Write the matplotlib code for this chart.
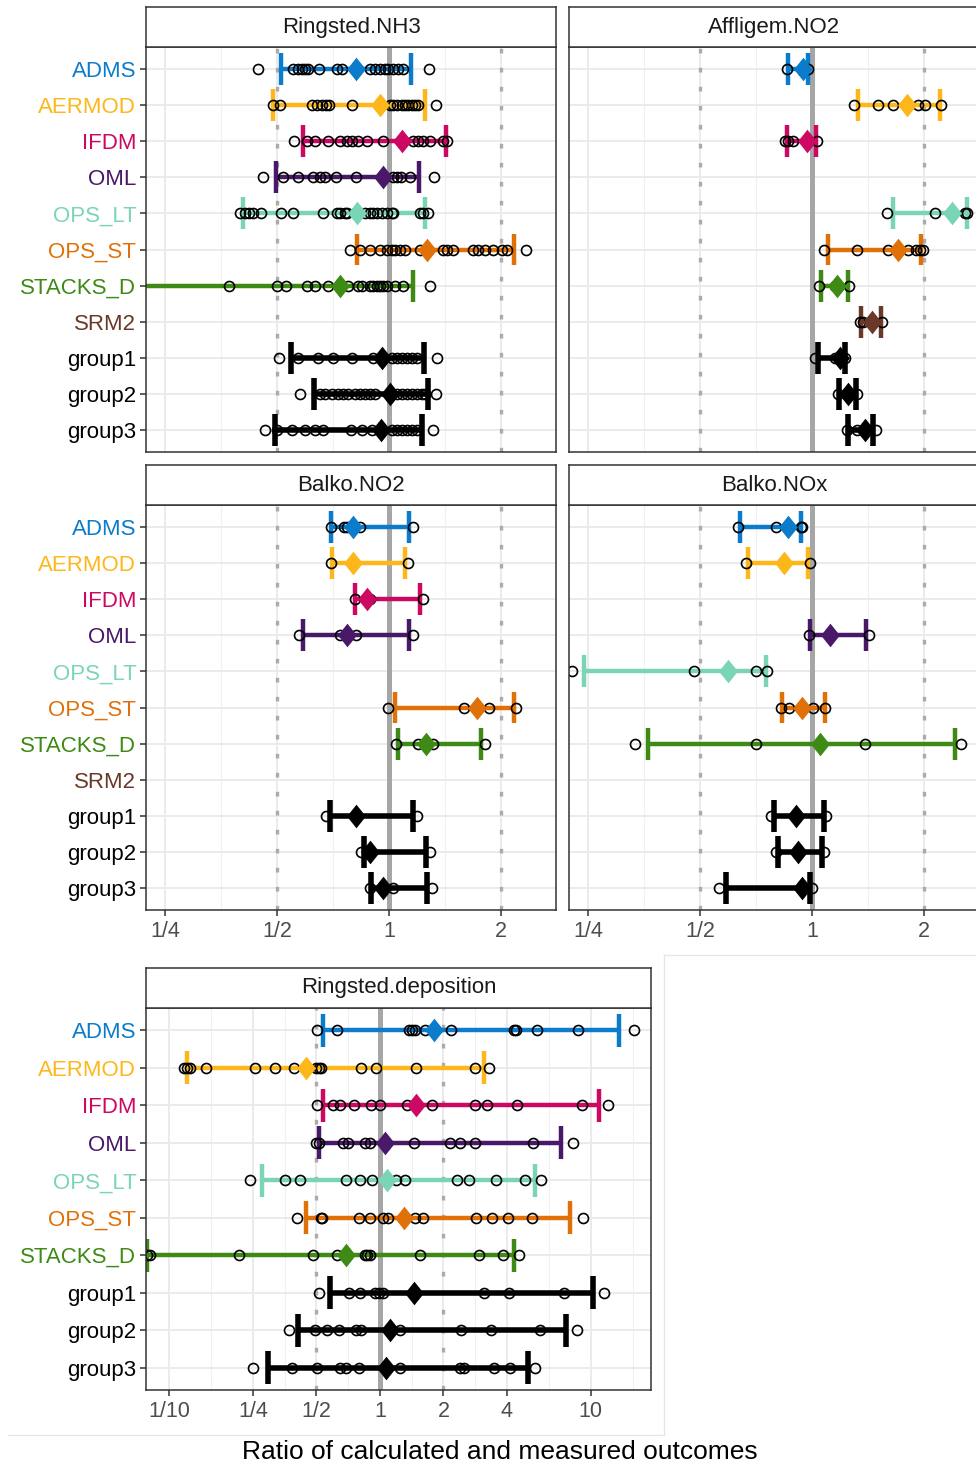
import numpy as np
import matplotlib
matplotlib.use("Agg")
import matplotlib.pyplot as plt
from matplotlib.path import Path
from matplotlib.lines import Line2D

plt.rcParams['font.family'] = ['Liberation Sans', 'DejaVu Sans']

# categories and colours
models = ["ADMS", "AERMOD", "IFDM", "OML", "OPS_LT", "OPS_ST", "STACKS_D",
          "SRM2", "group1", "group2", "group3"]
colors = ["#0B7BCB", "#FDB71A", "#CC0863", "#4A1868", "#7AD5B6", "#E07108",
          "#3D8A14", "#6A3828", "black", "black", "black"]
dep_models = [m for m in models if m != "SRM2"]
dep_colors = [c for m, c in zip(models, colors) if m != "SRM2"]

# ---- Ringsted.NH3 ----
nh3_points = [
    [0.445, 0.551, 0.57, 0.585, 0.595, 0.607, 0.648, 0.723, 0.746, 0.889, 0.917, 0.946, 0.975, 0.996, 1.027, 1.059, 1.093, 1.283],
    [0.487, 0.509, 0.62, 0.642, 0.659, 0.676, 0.691, 0.794, 1.006, 1.027, 1.049, 1.081, 1.104, 1.127, 1.151, 1.175, 1.199, 1.338],
    [0.556, 0.601, 0.632, 0.687, 0.738, 0.769, 0.794, 0.827, 0.871, 0.965, 1.162, 1.199, 1.236, 1.289, 1.4, 1.429],
    [0.459, 0.519, 0.57, 0.626, 0.652, 0.673, 0.72, 0.813, 1.027, 1.051, 1.077, 1.139, 1.321],
    [0.398, 0.41, 0.419, 0.432, 0.452, 0.512, 0.553, 0.666, 0.723, 0.738, 0.762, 0.769, 0.862, 0.889, 0.908, 0.927, 0.956, 0.986, 1.017, 1.027, 1.212, 1.236, 1.276],
    [0.786, 0.836, 0.889, 0.946, 0.986, 1.017, 1.038, 1.07, 1.104, 1.212, 1.4, 1.429, 1.489, 1.685, 1.738, 1.811, 1.908, 2.008, 2.072, 2.334],
    [0.12, 0.372, 0.499, 0.528, 0.601, 0.632, 0.687, 0.777, 0.827, 0.844, 0.889, 0.908, 0.927, 0.946, 0.965, 0.986, 1.038, 1.093, 1.289],
    [],
    [0.507, 0.57, 0.646, 0.707, 0.794, 0.908, 1.017, 1.049, 1.081, 1.116, 1.151, 1.187, 1.346],
    [0.576, 0.652, 0.673, 0.701, 0.73, 0.754, 0.777, 0.81, 0.836, 0.862, 0.889, 0.917, 1.049, 1.081, 1.116, 1.151, 1.187, 1.224, 1.249, 1.338],
    [0.464, 0.499, 0.548, 0.595, 0.632, 0.665, 0.791, 0.844, 0.898, 1.017, 1.049, 1.081, 1.116, 1.151, 1.187, 1.311],
]
nh3_mean = [0.815, 0.946, 1.081, 0.962, 0.819, 1.267, 0.738, None, 0.958, 1.003, 0.952]
nh3_lo = [0.513, 0.489, 0.586, 0.497, 0.405, 0.819, 0.15, None, 0.544, 0.629, 0.494]
nh3_hi = [1.144, 1.249, 1.423, 1.202, 1.249, 2.172, 1.162, None, 1.242, 1.276, 1.224]

# ---- Affligem.NO2 ----
aff_points = [
    [0.856, 0.94, 0.975],
    [1.298, 1.505, 1.652, 1.928, 2.008, 2.227],
    [0.847, 0.864, 0.886, 1.033],
    [],
    [1.592, 2.136, 2.572, 2.608],
    [1.079, 1.318, 1.601, 1.812, 1.908, 1.948, 1.988],
    [1.046, 1.15, 1.259],
    [1.344, 1.373, 1.538],
    [1.019, 1.15, 1.226],
    [1.172, 1.25, 1.318],
    [1.239, 1.318, 1.485],
]
aff_mean = [0.948, 1.794, 0.968, None, 2.383, 1.703, 1.169, 1.451, 1.189, 1.251, 1.387]
aff_lo = [0.861, 1.326, 0.856, None, 1.652, 1.106, 1.057, 1.353, 1.036, 1.183, 1.251]
aff_hi = [0.977, 2.204, 1.025, None, 2.608, 1.96, 1.251, 1.531, 1.226, 1.312, 1.46]

# ---- Balko.NO2 ----
bno2_points = [
    [0.698, 0.755, 0.771, 0.836, 1.157],
    [0.698, 0.8, 1.126],
    [0.808, 0.889, 1.235],
    [0.573, 0.739, 0.816, 1.162],
    [],
    [0.992, 1.588, 1.856, 2.187],
    [1.044, 1.193, 1.314, 1.806],
    [],
    [0.678, 0.82, 1.186],
    [0.841, 0.889, 1.287],
    [0.886, 1.027, 1.301],
]
bno2_mean = [0.798, 0.798, 0.872, 0.773, None, 1.723, 1.254, None, 0.816, 0.889, 0.965]
bno2_lo = [0.699, 0.704, 0.811, 0.586, None, 1.037, 1.055, None, 0.692, 0.854, 0.895]
bno2_hi = [1.131, 1.104, 1.211, 1.133, None, 2.16, 1.77, None, 1.157, 1.254, 1.266]

# ---- Balko.NOx ----
bnox_points = [
    [0.632, 0.798, 0.931, 0.94],
    [0.663, 0.986],
    [],
    [0.982, 1.421],
    [0.226, 0.482, 0.707, 0.755],
    [0.825, 0.868, 1.003, 1.086],
    [0.335, 0.707, 1.39, 2.511],
    [],
    [0.775, 1.093],
    [0.799, 1.075],
    [0.562, 1.0],
]
bnox_mean = [0.863, 0.841, None, 1.12, 0.596, 0.937, 1.048, None, 0.908, 0.918, 0.938]
bnox_lo = [0.641, 0.674, None, 0.99, 0.244, 0.831, 0.363, None, 0.788, 0.808, 0.588]
bnox_hi = [0.934, 0.975, None, 1.392, 0.752, 1.081, 2.424, None, 1.077, 1.06, 0.986]

# ---- Ringsted.deposition (no SRM2) ----
dep_points = [
    [0.501, 0.627, 1.369, 1.42, 1.472, 1.642, 2.168, 4.3, 4.43, 5.55, 8.73, 16.07],
    [0.118, 0.121, 0.126, 0.15, 0.256, 0.317, 0.391, 0.495, 0.513, 0.527, 0.815, 0.959, 1.489, 2.833, 3.274],
    [0.504, 0.6, 0.645, 0.757, 0.909, 0.998, 1.345, 1.767, 2.833, 3.217, 4.46, 9.06, 12.1],
    [0.495, 0.513, 0.669, 0.704, 0.854, 0.902, 1.445, 2.156, 2.386, 2.833, 5.34, 8.21],
    [0.242, 0.353, 0.417, 0.687, 0.808, 0.918, 1.197, 1.32, 2.32, 2.652, 3.561, 4.88, 5.8],
    [0.406, 0.523, 0.532, 0.794, 0.895, 1.035, 1.089, 1.472, 1.601, 2.862, 3.397, 4.045, 5.25, 9.22],
    [0.079, 0.081, 0.215, 0.483, 0.627, 0.845, 0.87, 0.895, 1.555, 2.935, 3.829, 4.59],
    [0.513, 0.712, 0.808, 0.952, 0.987, 1.035, 3.099, 4.115, 7.47, 11.59],
    [0.37, 0.49, 0.563, 0.643, 0.766, 0.815, 1.241, 2.423, 3.359, 5.75, 8.63],
    [0.251, 0.384, 0.501, 0.645, 0.687, 0.794, 1.241, 2.405, 2.493, 3.456, 4.147, 5.45],
]
dep_mean = [1.797, 0.444, 1.484, 1.062, 1.081, 1.296, 0.687, 1.456, 1.113, 1.07]
dep_lo = [0.539, 0.121, 0.536, 0.513, 0.277, 0.444, 0.0785, 0.577, 0.408, 0.294]
dep_hi = [13.63, 3.099, 10.97, 7.23, 5.45, 7.97, 4.33, 10.28, 7.63, 5.01]

top_ticks = [0.25, 0.5, 1, 2]
top_labels = ["1/4", "1/2", "1", "2"]
dep_ticks = [0.1, 0.25, 0.5, 1, 2, 4, 10]
dep_labels = ["1/10", "1/4", "1/2", "1", "2", "4", "10"]

W, H = 976, 1466
fig = plt.figure(figsize=(W / 100, H / 100), dpi=100)

diamond = Path([(0, 1), (0.8, 0), (0, -1), (-0.8, 0), (0, 1)],
               [Path.MOVETO, Path.LINETO, Path.LINETO, Path.LINETO, Path.CLOSEPOLY])


def box(x0, y0, x1, y1):
    return [x0 / W, 1 - y1 / H, (x1 - x0) / W, (y1 - y0) / H]


def strip(x0, y0, x1, y1, title):
    s = fig.add_axes(box(x0, y0, x1, y1))
    s.set_xticks([]); s.set_yticks([])
    for sp in s.spines.values():
        sp.set_color("#333333"); sp.set_linewidth(1.1)
    s.text(0.5, 0.5, title, ha="center", va="center", fontsize=16, color="#1A1A1A")


def panel(rect, title, cats, cols, points, mean, lo, hi, xlim, ticks, labels,
          show_x, show_y):
    ax = fig.add_axes(box(*rect))
    strip(rect[0], rect[1] - 40, rect[2], rect[1], title)
    n = len(cats)
    ax.set_xscale("log", base=2)
    ax.set_xlim(*xlim)
    ax.set_ylim(n - 1 + 0.6, -0.6)
    # grid
    lt = np.log2(ticks)
    minor = list((lt[:-1] + lt[1:]) / 2) + [lt[-1] + (lt[-1] - lt[-2]) / 2]
    for m in minor:
        ax.axvline(2 ** m, color="#F0F0F0", lw=0.8, zorder=0.5)
    for t in ticks:
        ax.axvline(t, color="#EBEBEB", lw=1.4, zorder=0.6)
    for i in range(n):
        ax.axhline(i, color="#EBEBEB", lw=1.4, zorder=0.6)
    ax.axvline(1, color="#A6A6A6", lw=3.6, zorder=1)
    for v in (0.5, 2):
        ax.axvline(v, color="#ABABAB", lw=2.4, dashes=(1.4, 4.3),
                   dash_capstyle="butt", zorder=1)
    for i in range(n):
        if mean[i] is None:
            continue
        c = cols[i]
        lw = 4.0 if c == "black" else 3.2
        ax.plot([lo[i], hi[i]], [i, i], color=c, lw=lw, solid_capstyle="butt", zorder=2)
        ax.vlines([lo[i], hi[i]], i - 0.44, i + 0.44, color=c, lw=lw, zorder=2)
        ax.plot(points[i], [i] * len(points[i]), "o", ms=7.2, mfc="none",
                mec="black", mew=1.2, zorder=3)
        ax.plot([mean[i]], [i], marker=diamond, ms=17, color=c, mec="none", zorder=4)
    ax.set_yticks(range(n))
    if show_y:
        ax.set_yticklabels(cats, fontsize=16)
        for lab, c in zip(ax.get_yticklabels(), cols):
            lab.set_color(c)
        ax.tick_params(axis="y", length=4, width=1.1, color="#333333", pad=3)
    else:
        ax.set_yticklabels([])
        ax.tick_params(axis="y", length=0)
    ax.set_xticks(ticks)
    ax.set_xticks([], minor=True)
    if show_x:
        ax.set_xticklabels(labels, fontsize=15.5, color="#4D4D4D")
        ax.tick_params(axis="x", length=4, width=1.1, color="#333333", pad=4)
    else:
        ax.set_xticklabels([])
        ax.tick_params(axis="x", length=0)
    for sp in ax.spines.values():
        sp.set_color("#333333"); sp.set_linewidth(1.1)
        sp.set_zorder(5)
    return ax


top_xlim = (2 ** -2.17, 2 ** 1.49)
dep_xlim = (2 ** -3.685, 2 ** 4.27)

panel((146, 47, 556, 452), "Ringsted.NH3", models, colors, nh3_points, nh3_mean,
      nh3_lo, nh3_hi, top_xlim, top_ticks, top_labels, False, True)
panel((569, 47, 979, 452), "Affligem.NO2", models, colors, aff_points, aff_mean,
      aff_lo, aff_hi, top_xlim, top_ticks, top_labels, False, False)
panel((146, 505, 556, 910), "Balko.NO2", models, colors, bno2_points, bno2_mean,
      bno2_lo, bno2_hi, top_xlim, top_ticks, top_labels, True, True)
panel((569, 505, 979, 910), "Balko.NOx", models, colors, bnox_points, bnox_mean,
      bnox_lo, bnox_hi, top_xlim, top_ticks, top_labels, True, False)
panel((146, 1008, 651, 1390), "Ringsted.deposition", dep_models, dep_colors,
      dep_points, dep_mean, dep_lo, dep_hi, dep_xlim, dep_ticks, dep_labels, True, True)

# faint frame of the lower sub-figure
frame_kw = dict(color="#E6E6E6", lw=1.0, transform=fig.transFigure)
fig.add_artist(Line2D([8 / W, 664 / W], [1 - 1435 / H, 1 - 1435 / H], **frame_kw))
fig.add_artist(Line2D([664 / W, 664 / W], [1 - 955 / H, 1 - 1435 / H], **frame_kw))
fig.add_artist(Line2D([664 / W, 1], [1 - 955 / H, 1 - 955 / H], **frame_kw))

fig.text(500 / W, 1 - 1452 / H, "Ratio of calculated and measured outcomes",
         ha="center", va="center", fontsize=19, color="black")

fig.savefig("out.png", dpi=100)
